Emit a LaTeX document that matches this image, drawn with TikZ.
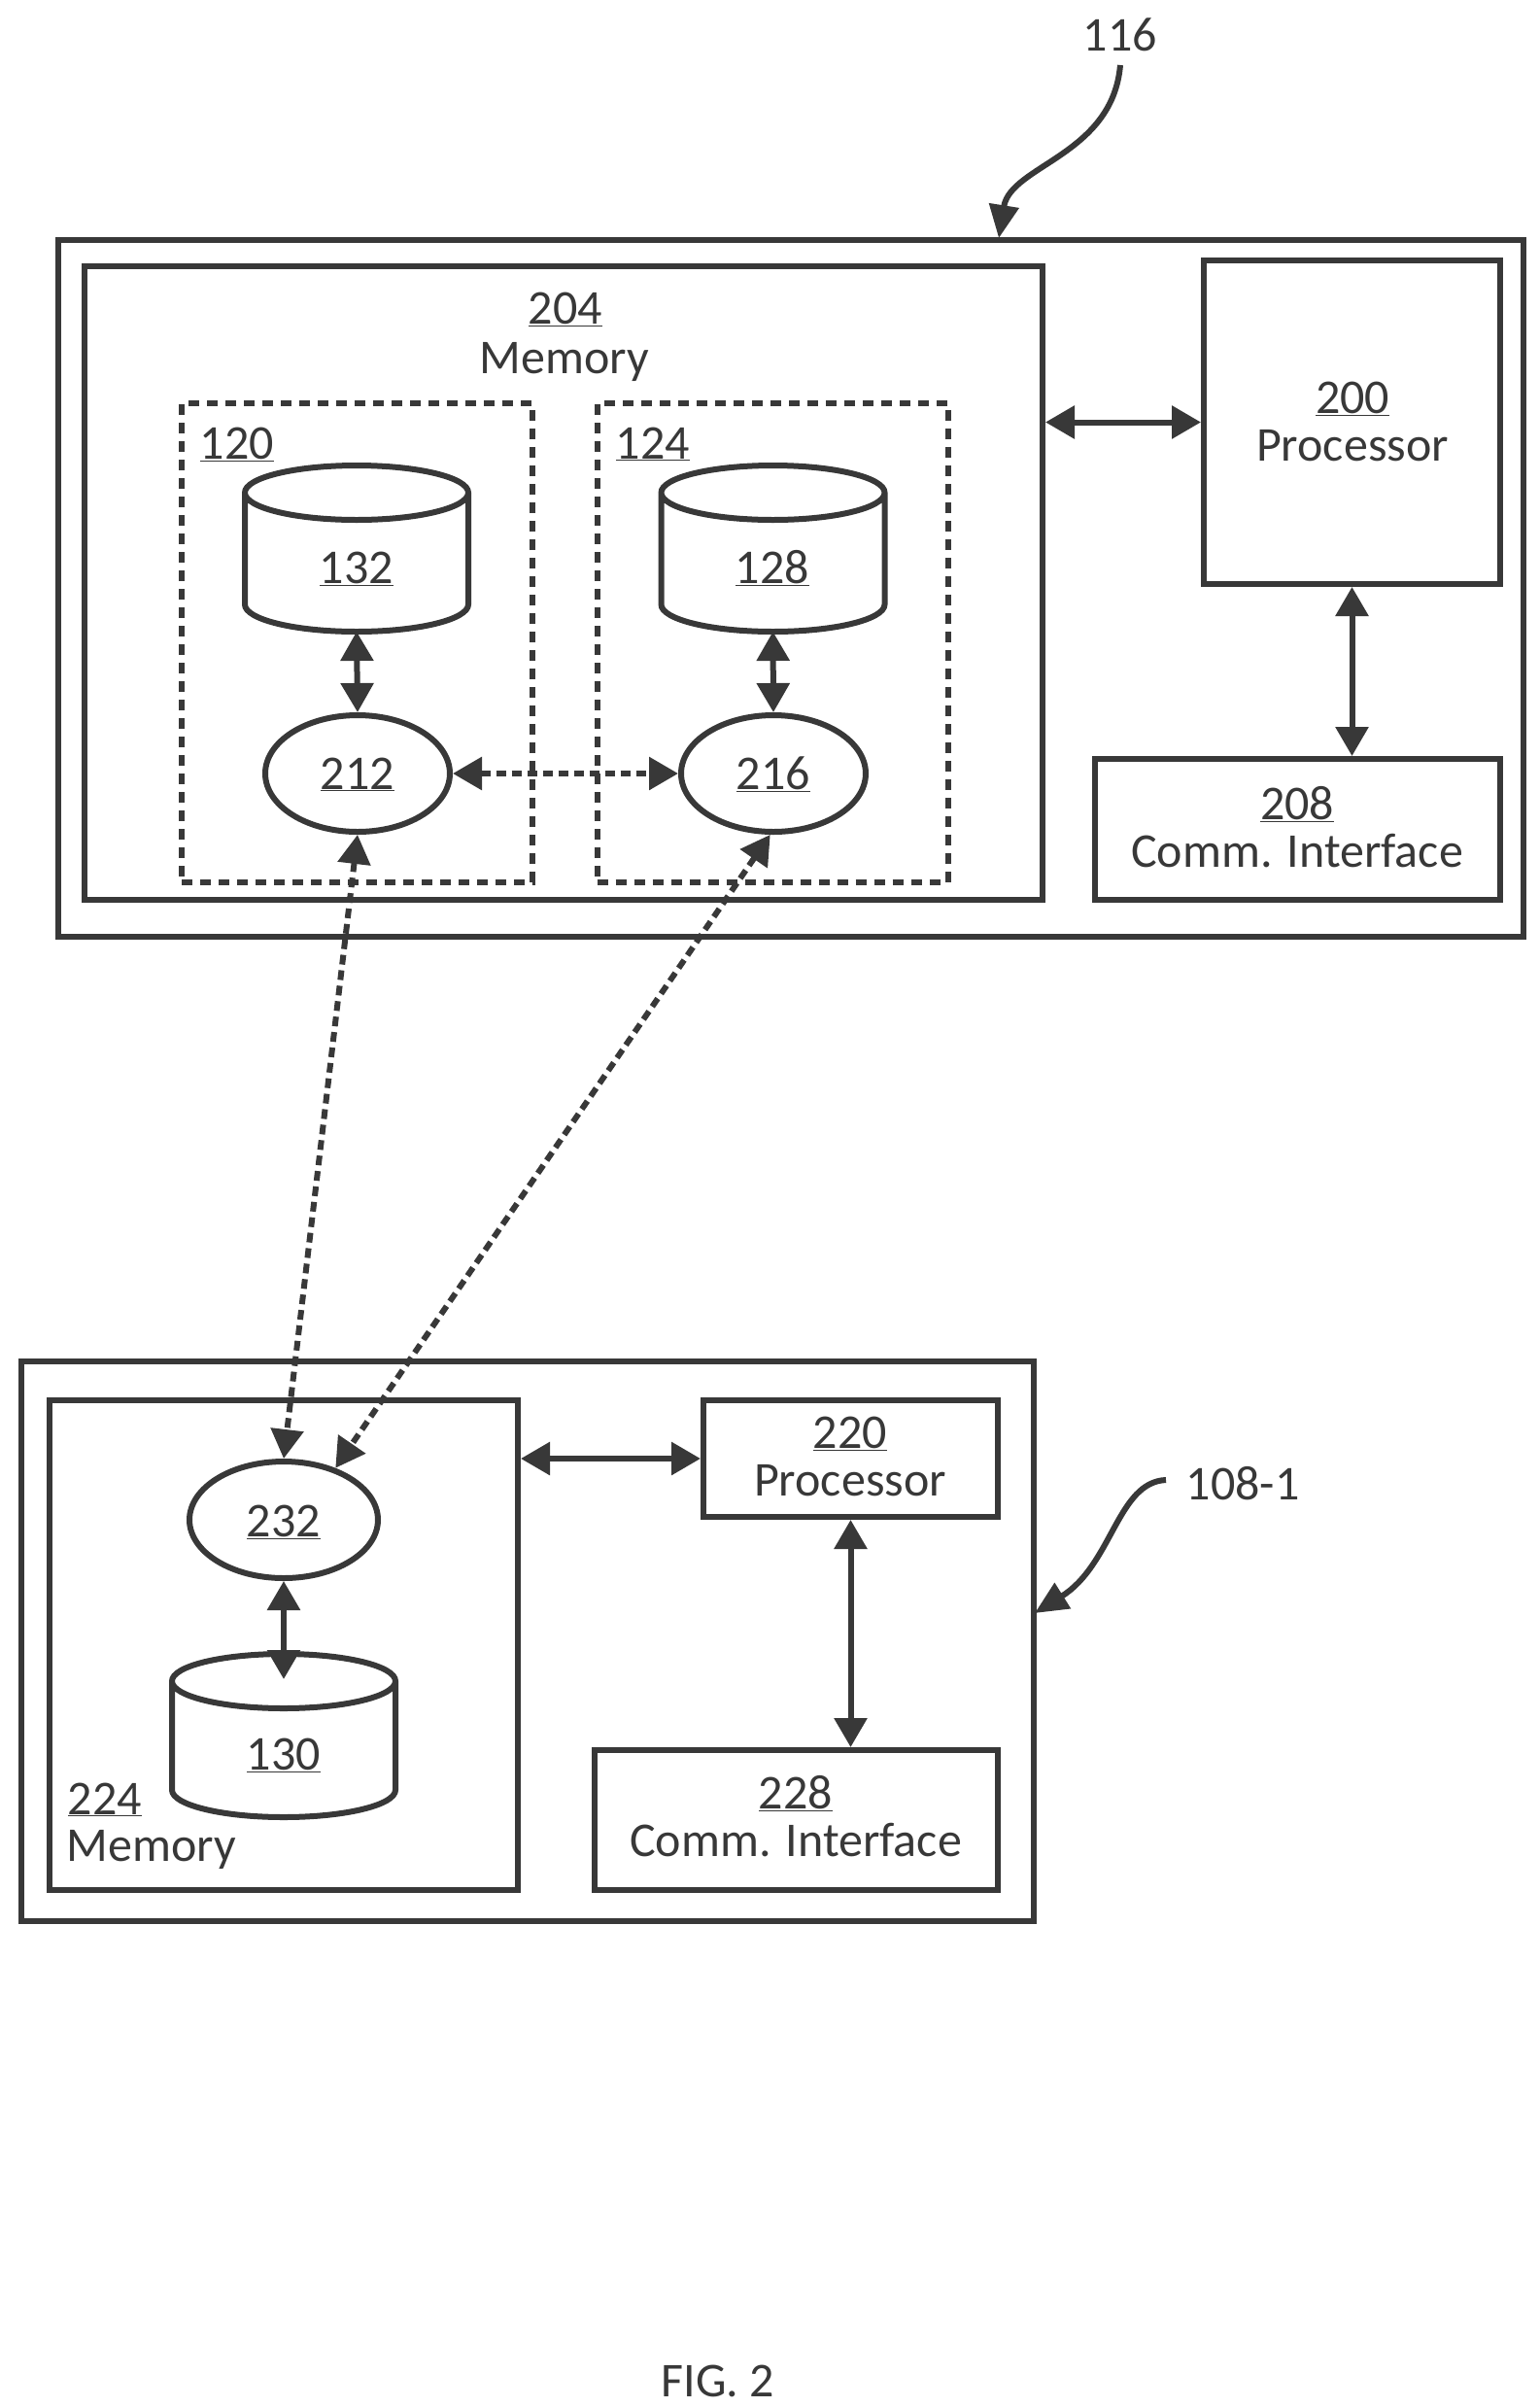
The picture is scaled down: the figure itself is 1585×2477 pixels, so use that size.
\documentclass[tikz,border=0pt]{standalone}
\usepackage{fontspec}
\setmainfont{Carlito}
\usetikzlibrary{arrows.meta,shapes.geometric}
\colorlet{inkgray}{black!78}
\tikzset{every picture/.style={line width=6pt}}
\tikzset{
	boxnode/.style={draw=inkgray,rectangle,inner sep=0pt},
	dashnode/.style={boxnode,dash pattern=on 11pt off 8pt},
	ovalnode/.style={draw=inkgray,ellipse,inner sep=0pt},
	dbnode/.style={rectangle,inner sep=0pt,outer sep=0pt,minimum width=230pt},
	canline/.style={draw=inkgray},
	txt/.style={anchor=base,inner sep=0pt,text=inkgray,font=\fontsize{50}{60}\selectfont},
	biarrow/.style={draw=inkgray,{Triangle[length=30pt,width=33pt]}-{Triangle[length=30pt,width=33pt]}},
	netarrow/.style={biarrow,dash pattern=on 10pt off 6pt},
	leader/.style={draw=inkgray,-{Triangle[length=34pt,width=30pt]}}
}
\newcommand{\drawcan}[1]{
	\path (#1.north west) ++(0,28) coordinate (#1tl);
	\path (#1.south east) ++(0,-28) coordinate (#1br);
	\draw [canline] (#1tl) arc[start angle=180,delta angle=-360,x radius=115pt,y radius=28pt] -- (#1tl |- #1br) arc[start angle=180,end angle=0,x radius=115pt,y radius=28pt] -- (#1br |- #1tl);
}

\begin{document}
\begin{tikzpicture}[x=1pt,y=1pt,yscale=-1]
	\useasboundingbox (0,0) rectangle (1585,2477);
	
	%Shape: Rectangle [top device]
	\node [boxnode,minimum width=1508pt,minimum height=717pt] (dev116) at (814,605.5) {};
	\node [boxnode,minimum width=986pt,minimum height=652pt] (mem204) at (580,600) {};
	\node [boxnode,minimum width=305pt,minimum height=333pt] (proc200) at (1391.5,434.5) {};
	\node [boxnode,minimum width=417pt,minimum height=145pt] (comm208) at (1335.5,853.5) {};
	%Shape: Dashed Rectangle
	\node [dashnode,minimum width=361pt,minimum height=493pt] (env120) at (367.5,661.5) {};
	\node [dashnode,minimum width=361pt,minimum height=493pt] (env124) at (795,661.5) {};
	%Shape: Can
	\node [dbnode,minimum height=171pt] (db132) at (367,564.5) {};
	\node [dbnode,minimum height=171pt] (db128) at (795.5,564.5) {};
	\drawcan{db132}
	\drawcan{db128}
	%Shape: Ellipse
	\node [ovalnode,minimum width=190pt,minimum height=120pt] (app212) at (368,796) {};
	\node [ovalnode,minimum width=190pt,minimum height=120pt] (app216) at (796,796) {};
	
	%Shape: Rectangle [bottom device]
	\node [boxnode,minimum width=1042pt,minimum height=576pt] (dev108) at (543,1689) {};
	\node [boxnode,minimum width=482pt,minimum height=504pt] (mem224) at (292,1693) {};
	\node [boxnode,minimum width=303pt,minimum height=120pt] (proc220) at (875.5,1501) {};
	\node [boxnode,minimum width=415pt,minimum height=144pt] (comm228) at (819.5,1873) {};
	\node [ovalnode,minimum width=194pt,minimum height=120pt] (app232) at (292,1564) {};
	\node [dbnode,minimum height=168pt] (db130) at (292,1786) {};
	\drawcan{db130}
	
	%Straight Lines
	\draw [biarrow] (proc200.west -| mem204.east) -- (proc200.west);
	\draw [biarrow] (proc200.south) -- (proc200.south |- comm208.north);
	\draw [biarrow] (db132.south) -- (app212.north);
	\draw [biarrow] (db128.south) -- (app216.north);
	\draw [netarrow] (app212.east) -- (app216.west);
	\draw [netarrow] (app212.south) -- (app232.north);
	\draw [netarrow] (app216.-93) -- (app232.45);
	\draw [biarrow] (proc220.west -| mem224.east) -- (proc220.west);
	\draw [biarrow] (proc220.south) -- (proc220.south |- comm228.north);
	\draw [biarrow] (app232.south) -- ([yshift=26pt]db130.north);
	
	%Curve Lines
	\coordinate (from116) at (1153,67);
	\coordinate (tip116) at (1028,245);
	\coordinate (from108) at (1200,1523);
	\coordinate (tip108) at (1065,1660);
	\draw [leader] (from116) .. controls (1145,160) and (1040,170) .. (tip116);
	\draw [leader] (from108) .. controls (1150,1525) and (1145,1610) .. (tip108);
	
	% Text Node
	\draw (1153,52) node [txt] (t116) {116};
	% Text Node
	\draw (582,333) node [txt] (t204) {\underline{204}};
	% Text Node
	\draw (581,384) node [txt] (tmem204) {Memory};
	% Text Node
	\draw (244,472) node [txt] (t120) {\underline{120}};
	% Text Node
	\draw (672,472) node [txt] (t124) {\underline{124}};
	% Text Node
	\draw (367,600) node [txt] (t132) {\underline{132}};
	% Text Node
	\draw (795,600) node [txt] (t128) {\underline{128}};
	% Text Node
	\draw (368,812) node [txt] (t212) {\underline{212}};
	% Text Node
	\draw (796,812) node [txt] (t216) {\underline{216}};
	% Text Node
	\draw (1392,425) node [txt] (t200) {\underline{200}};
	% Text Node
	\draw (1392,474) node [txt] (tproc200) {Processor};
	% Text Node
	\draw (1335,843) node [txt] (t208) {\underline{208}};
	% Text Node
	\draw (1335,892) node [txt] (tcomm208) {Comm. Interface};
	% Text Node
	\draw (875,1490) node [txt] (t220) {\underline{220}};
	% Text Node
	\draw (875,1539) node [txt] (tproc220) {Processor};
	% Text Node
	\draw (819,1861) node [txt] (t228) {\underline{228}};
	% Text Node
	\draw (819,1910) node [txt] (tcomm228) {Comm. Interface};
	% Text Node
	\draw (292,1581) node [txt] (t232) {\underline{232}};
	% Text Node
	\draw (292,1821) node [txt] (t130) {\underline{130}};
	% Text Node
	\draw (108,1867) node [txt] (t224) {\underline{224}};
	% Text Node
	\draw (156,1915) node [txt] (tmem224) {Memory};
	% Text Node
	\draw (1279,1543) node [txt] (t108) {108-1};
	% Text Node
	\draw (739,2466) node [txt] (tfig) {FIG. 2};
	
\end{tikzpicture}
\end{document}
